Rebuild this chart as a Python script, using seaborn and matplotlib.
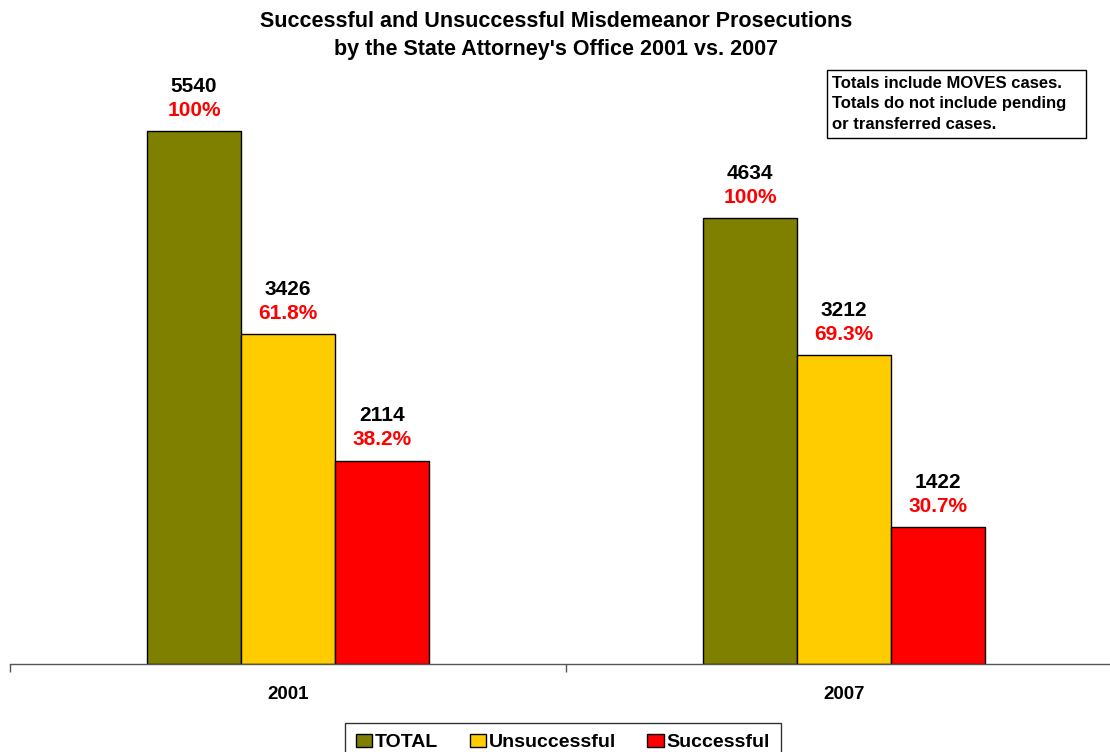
import matplotlib
matplotlib.use("Agg")

import pandas as pd
import matplotlib.pyplot as plt
import seaborn as sns
from matplotlib.patches import Patch, Rectangle

# ── Data ──────────────────────────────────────────────────────────────────────
years = ["2001", "2007"]
series = ["TOTAL", "Unsuccessful", "Successful"]
total_cases = [5540, 4634]
unsuccessful_cases = [3426, 3212]
successful_cases = [2114, 1422]
total_pct = ["100%", "100%"]
unsuccessful_pct = ["61.8%", "69.3%"]
successful_pct = ["38.2%", "30.7%"]
colors = ["#808000", "#FFCC00", "#FF0000"]

values = {"TOTAL": total_cases, "Unsuccessful": unsuccessful_cases, "Successful": successful_cases}
pcts = {"TOTAL": total_pct, "Unsuccessful": unsuccessful_pct, "Successful": successful_pct}

df = pd.DataFrame(
    [(y, s, values[s][i]) for s in series for i, y in enumerate(years)],
    columns=["year", "series", "cases"],
)

# ── Style ────────────────────────────────────────────────────────────────────
sns.set_theme(style="white")
plt.rcParams["font.family"] = ["Liberation Sans", "DejaVu Sans"]
plt.rcParams["font.weight"] = "bold"
plt.rcParams["text.color"] = "black"
plt.rcParams["xtick.color"] = "black"

fig = plt.figure(figsize=(11.1, 7.52), dpi=100)
ax = fig.add_axes([10 / 1110, 88 / 752, 1112 / 1110, 604 / 752])

sns.barplot(
    data=df, x="year", y="cases", hue="series", hue_order=series,
    palette=colors, width=0.507, gap=0, edgecolor="black", linewidth=1,
    saturation=1, legend=False, ax=ax,
)

ax.set_xlim(-0.5, 1.5)
ax.set_ylim(0, 6280)
ax.set_xlabel("")
ax.set_ylabel("")
ax.set_yticks([])
for side in ["left", "right", "top"]:
    ax.spines[side].set_visible(False)
ax.spines["bottom"].set_color("#555555")
ax.spines["bottom"].set_linewidth(1)

ax.set_xticks([0, 1])
ax.set_xticklabels(years, fontsize=13.5, fontweight="bold", color="black")
ax.tick_params(axis="x", which="major", bottom=True, length=0, pad=16)
ax.set_xticks([-0.5, 0.5, 1.5], minor=True)
ax.tick_params(axis="x", which="minor", bottom=True, length=6, width=1,
               color="#555555", direction="out")

# value + percentage labels above each bar
for s, container in zip(series, ax.containers):
    for i, bar in enumerate(container):
        x = bar.get_x() + bar.get_width() / 2
        h = bar.get_height()
        ax.annotate(f"{values[s][i]}", (x, h), xytext=(0, 32.4), textcoords="offset points",
                    ha="center", va="center", fontsize=15, fontweight="bold", color="black")
        ax.annotate(pcts[s][i], (x, h), xytext=(0, 15), textcoords="offset points",
                    ha="center", va="center", fontsize=15, fontweight="bold", color="#FF0000")

fig.suptitle(
    "Successful and Unsuccessful Misdemeanor Prosecutions\n"
    "by the State Attorney's Office 2001 vs. 2007",
    x=556 / 1110, y=1 - 11 / 752, fontsize=15.5, fontweight="bold", linespacing=1.45,
    color="black",
)

# note box
fig.patches.append(Rectangle((827 / 1110, 1 - 138 / 752), 259 / 1110, 68 / 752,
                             transform=fig.transFigure, facecolor="white",
                             edgecolor="black", linewidth=1, zorder=5))
fig.text(832 / 1110, 1 - 76 / 752,
         "Totals include MOVES cases.\nTotals do not include pending\nor transferred cases.",
         ha="left", va="top", fontsize=12, fontweight="bold", linespacing=1.45, zorder=6)

handles = [Patch(facecolor=c, edgecolor="black", linewidth=1) for c in colors]
fig.legend(
    handles, series, loc="upper center", bbox_to_anchor=(563 / 1110, 1 - 723 / 752),
    ncol=3, frameon=True, fancybox=False, edgecolor="black",
    handlelength=0.85, handleheight=0.7, handletextpad=0.15, columnspacing=1.6,
    borderpad=0.55, borderaxespad=0, prop={"weight": "bold", "size": 14},
)

fig.savefig("out.png", dpi=100)
